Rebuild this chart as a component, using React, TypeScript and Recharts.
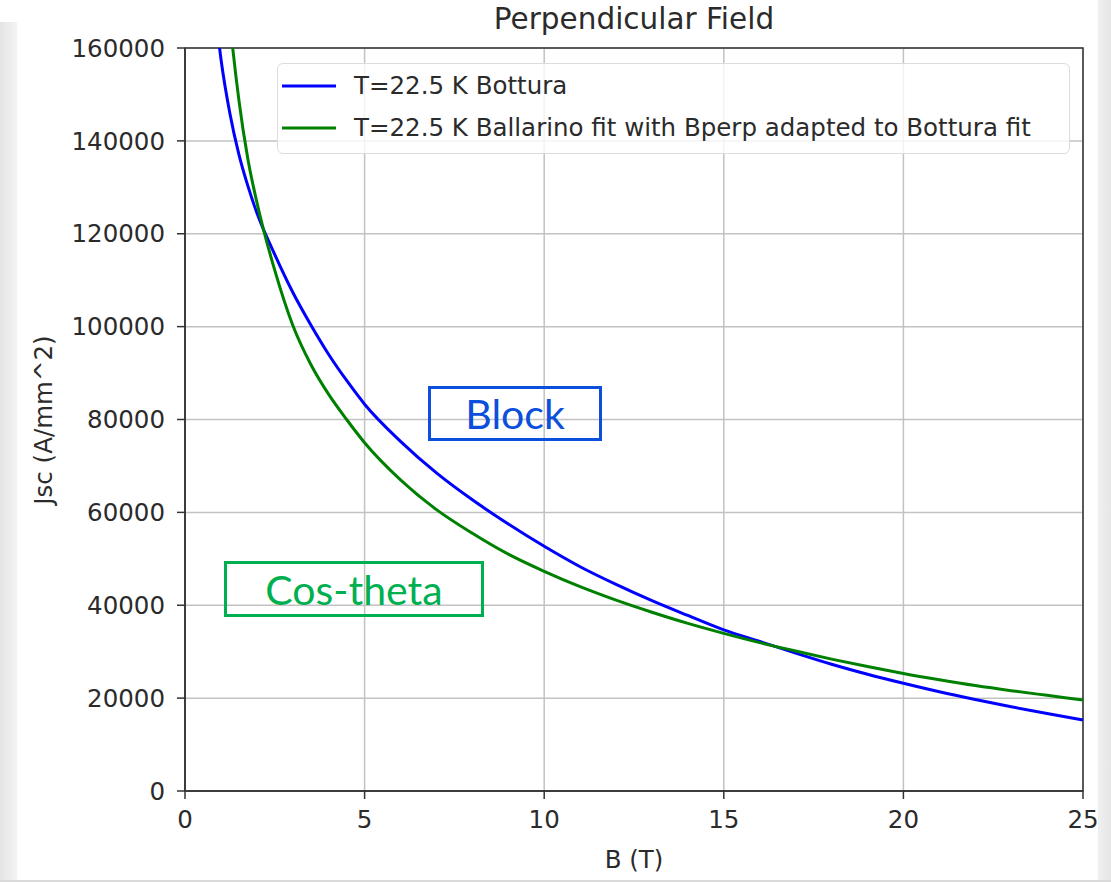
import React from 'react';
import { LineChart, Line, XAxis, YAxis, CartesianGrid, Legend, ReferenceArea } from 'recharts';

const B_VALUES = [0.75, 1, 1.25, 1.5, 1.75, 2, 2.5, 3, 3.5, 4, 4.5, 5, 6, 7, 8, 9, 10, 11, 12, 13, 14, 15, 16, 17, 18, 19, 20, 21, 22, 23, 24, 25];
const BOTTURA = [174900, 157700, 145900, 137100, 130300, 124500, 115500, 107400, 100400, 94000, 88400, 83300, 75300, 68500, 62700, 57500, 52700, 48300, 44500, 41000, 37800, 34700, 32200, 29700, 27300, 25150, 23200, 21370, 19700, 18140, 16690, 15300];
const BALLARINO = [225000, 190000, 166000, 148800, 136100, 126800, 112100, 100300, 91900, 85400, 80000, 75000, 67000, 60600, 55500, 51000, 47300, 44000, 41100, 38500, 36100, 33950, 31950, 30150, 28400, 26800, 25300, 23950, 22700, 21600, 20600, 19600];
const X_TICKS = [0, 5, 10, 15, 20, 25];
const Y_TICKS = [0, 20000, 40000, 60000, 80000, 100000, 120000, 140000, 160000];
const SERIES_NAMES = ['T=22.5 K Bottura', 'T=22.5 K Ballarino fit with Bperp adapted to Bottura fit'];
const TITLE = 'Perpendicular Field';
const X_LABEL = 'B (T)';
const Y_LABEL = 'Jsc (A/mm^2)';
const ANNOTATIONS = ['Block', 'Cos-theta'];

const data = B_VALUES.map((b, i) => ({ B: b, bottura: BOTTURA[i], ballarino: BALLARINO[i] }));

const FONT = '"DejaVu Sans", sans-serif';
const TEXT = '#2b2b2b';

const renderLegend = (props: any) => {
  const payload = [...(props.payload || [])].sort(
    (a: any, b: any) => SERIES_NAMES.indexOf(a.value) - SERIES_NAMES.indexOf(b.value)
  );
  return (
    <div
      style={{
        position: 'relative',
        width: 793,
        height: 91,
        boxSizing: 'border-box',
        border: '1.5px solid #dcdcdc',
        borderRadius: 6,
        background: 'rgba(255,255,255,0.8)',
        fontFamily: FONT,
        fontSize: 24.5,
        color: TEXT,
      }}
    >
      {payload.map((entry: any, i: number) => (
        <div
          key={i}
          style={{
            position: 'absolute',
            left: 0,
            top: 22 + i * 41.7 - 16,
            height: 32,
            display: 'flex',
            alignItems: 'center',
            whiteSpace: 'nowrap',
          }}
        >
          <svg width={76} height={8} style={{ display: 'block' }}>
            <line x1={4} y1={4} x2={58} y2={4} stroke={entry.color} strokeWidth={3} />
          </svg>
          <span style={{ lineHeight: '32px' }}>{entry.value}</span>
        </div>
      ))}
    </div>
  );
};

export default function App() {
  return (
    <div style={{ position: 'absolute', left: 0, top: 0, width: 1111, height: 882, background: '#fff', overflow: 'hidden' }}>
      <div style={{ position: 'absolute', left: 0, top: 22, width: 17, height: 860, background: 'linear-gradient(to right, #e4e4e4, #f3f3f3)' }} />
      <div style={{ position: 'absolute', left: 1098, top: 0, width: 13, height: 882, background: 'linear-gradient(to right, #f0f0f0, #e6e6e6)' }} />
      <div style={{ position: 'absolute', left: 0, top: 880, width: 1111, height: 2, background: '#dadada' }} />

      <div style={{ position: 'absolute', left: 0, top: 0 }}>
        <LineChart width={1111} height={882} data={data} margin={{ top: 48, right: 28, bottom: 0, left: 0 }}>
          <CartesianGrid stroke="#c2c2c2" strokeWidth={1.5} />
          <XAxis
            dataKey="B"
            type="number"
            domain={[0, 25]}
            ticks={X_TICKS}
            height={91}
            tickSize={8}
            tickMargin={12}
            stroke="#333"
            strokeWidth={1.5}
            tick={{ fill: TEXT, fontSize: 24.5, fontFamily: FONT }}
            tickLine={{ stroke: '#333', strokeWidth: 1.5 }}
          />
          <YAxis
            type="number"
            domain={[0, 160000]}
            ticks={Y_TICKS}
            allowDataOverflow
            width={185}
            tickSize={8}
            tickMargin={12}
            stroke="#333"
            strokeWidth={1.5}
            tick={{ fill: TEXT, fontSize: 24.5, fontFamily: FONT }}
            tickLine={{ stroke: '#333', strokeWidth: 1.5 }}
          />
          <Line
            type="monotone"
            dataKey="bottura"
            name={SERIES_NAMES[0]}
            stroke="#0000ff"
            strokeWidth={3}
            dot={false}
            isAnimationActive={false}
          />
          <Line
            type="monotone"
            dataKey="ballarino"
            name={SERIES_NAMES[1]}
            stroke="#008000"
            strokeWidth={3}
            dot={false}
            isAnimationActive={false}
          />
          <ReferenceArea x1={0} x2={25} y1={0} y2={160000} fill="none" fillOpacity={0} stroke="#333" strokeWidth={1.5} />
          <Legend
            layout="horizontal"
            verticalAlign="middle"
            align="center"
            content={renderLegend}
            wrapperStyle={{ left: 277, top: 63, width: 793, height: 91 }}
          />
        </LineChart>
      </div>

      <div style={{ position: 'absolute', left: 334, width: 600, top: 4, textAlign: 'center', fontFamily: FONT, fontSize: 29.5, lineHeight: '30px', color: TEXT }}>
        {TITLE}
      </div>
      <div style={{ position: 'absolute', left: 434, width: 400, top: 845, textAlign: 'center', fontFamily: FONT, fontSize: 24.5, lineHeight: '30px', color: TEXT }}>
        {X_LABEL}
      </div>
      <div
        style={{
          position: 'absolute',
          left: 44 - 150,
          top: 420 - 15,
          width: 300,
          height: 30,
          textAlign: 'center',
          fontFamily: FONT,
          fontSize: 24.5,
          lineHeight: '30px',
          color: TEXT,
          transform: 'rotate(-90deg)',
        }}
      >
        {Y_LABEL}
      </div>

      <div
        style={{
          position: 'absolute',
          left: 428,
          top: 386,
          width: 174,
          height: 55,
          boxSizing: 'border-box',
          border: '3px solid #0b4fdc',
          display: 'flex',
          alignItems: 'center',
          justifyContent: 'center',
          fontFamily: 'Lato, sans-serif',
          fontSize: 41,
          color: '#0b4fdc',
          lineHeight: 1,
        }}
      >
        {ANNOTATIONS[0]}
      </div>
      <div
        style={{
          position: 'absolute',
          left: 224,
          top: 561,
          width: 260,
          height: 56,
          boxSizing: 'border-box',
          border: '3px solid #00b050',
          display: 'flex',
          alignItems: 'center',
          justifyContent: 'center',
          fontFamily: 'Lato, sans-serif',
          fontSize: 41,
          color: '#00b050',
          lineHeight: 1,
        }}
      >
        {ANNOTATIONS[1]}
      </div>
    </div>
  );
}
